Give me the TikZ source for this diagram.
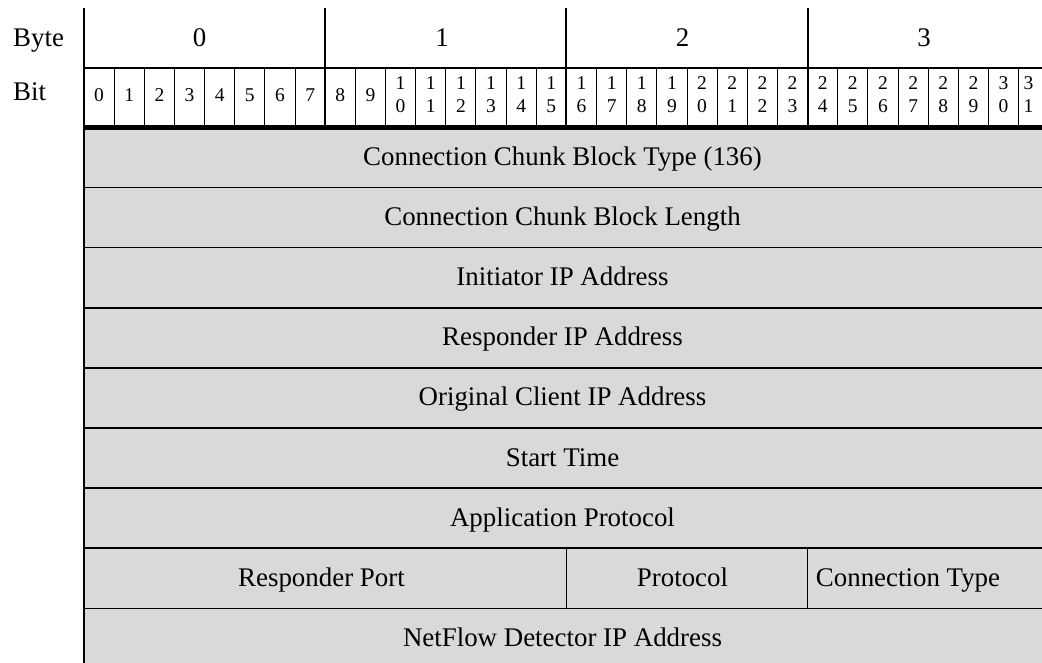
\documentclass[tikz,border=0pt]{standalone}
\usepackage{fontspec}
\setmainfont{Liberation Serif}
\definecolor{fieldgray}{HTML}{D9D9D9}
\begin{document}
\begin{tikzpicture}[x=1pt,y=-1pt,
  bigtext/.style={font=\fontsize{26.9}{30}\selectfont, inner sep=0pt, anchor=base},
  smalltext/.style={font=\fontsize{19.5}{22}\selectfont, inner sep=0pt, anchor=base},
  rowline/.style={line width=1.6pt},
  bitline/.style={line width=1pt},
  byteline/.style={line width=2pt},
  headline/.style={line width=5.5pt}]
\useasboundingbox (0,0) rectangle (1042,663);
\begin{scope}
\clip (0,0) rectangle (1042,663);
% field area
\fill[fieldgray] (84,127.5) rectangle (1060,680);
\foreach \i in {1,...,9}
  \draw[rowline] (84,{127.5+60.1*\i}) -- (1060,{127.5+60.1*\i});
% split row dividers
\draw[rowline] (566.4,548.2) -- (566.4,608.3);
\draw[rowline] (807.6,548.2) -- (807.6,608.3);
% header lines
\draw[line width=1.2pt] (84,68) -- (1060,68);
\foreach \k in {1,...,33} {
  \pgfmathtruncatemacro\m{mod(\k,8)}
  \ifnum\m=0\else
    \draw[bitline] ({84+30.15*\k},68) -- ({84+30.15*\k},127.5);
  \fi
}
\foreach \k in {1,2,3,4}
  \draw[byteline] ({84+241.2*\k},8) -- ({84+241.2*\k},127.5);
\draw[headline] (84,127.5) -- (1060,127.5);
\draw[byteline] (84,8) -- (84,680);
% labels
\node[bigtext, anchor=base west] (bytelbl) at (13,47) {Byte};
\node[bigtext, anchor=base west] (bitlbl) at (13,100.5) {Bit};
\node[bigtext] (byte0) at (199.5,47) {0};
\node[bigtext] (byte1) at (442,47) {1};
\node[bigtext] (byte2) at (682.5,47) {2};
\node[bigtext] (byte3) at (924,47) {3};
\foreach \n in {0,...,31} {
  \pgfmathsetmacro\bx{\n==31 ? 1028.5 : 84+30.15*(\n+0.5)}
  \ifnum\n<10
    \node[smalltext] (bit\n) at (\bx,101.6) {\n};
  \else
    \pgfmathtruncatemacro\tens{\n/10}
    \pgfmathtruncatemacro\ones{mod(\n,10)}
    \node[smalltext] (bit\n t) at (\bx,89.3) {\tens};
    \node[smalltext] (bit\n o) at (\bx,112.3) {\ones};
  \fi
}
% field texts
\node[bigtext] (f0) at (562.5,{127.5+60.1*0+38}) {Connection Chunk Block Type (136)};
\node[bigtext] (f1) at (562.5,{127.5+60.1*1+38}) {Connection Chunk Block Length};
\node[bigtext] (f2) at (562.5,{127.5+60.1*2+38}) {Initiator IP Address};
\node[bigtext] (f3) at (562.5,{127.5+60.1*3+38}) {Responder IP Address};
\node[bigtext] (f4) at (562.5,{127.5+60.1*4+38}) {Original Client IP Address};
\node[bigtext] (f5) at (562.5,{127.5+60.1*5+38}) {Start Time};
\node[bigtext] (f6) at (562.5,{127.5+60.1*6+38}) {Application Protocol};
\node[bigtext] (f7a) at (321.5,{127.5+60.1*7+38}) {Responder Port};
\node[bigtext] (f7b) at (682.5,{127.5+60.1*7+38}) {Protocol};
\node[bigtext] (f7c) at (908,{127.5+60.1*7+38}) {Connection Type};
\node[bigtext] (f8) at (562.5,{127.5+60.1*8+38}) {NetFlow Detector IP Address};
\end{scope}
\end{tikzpicture}
\end{document}
